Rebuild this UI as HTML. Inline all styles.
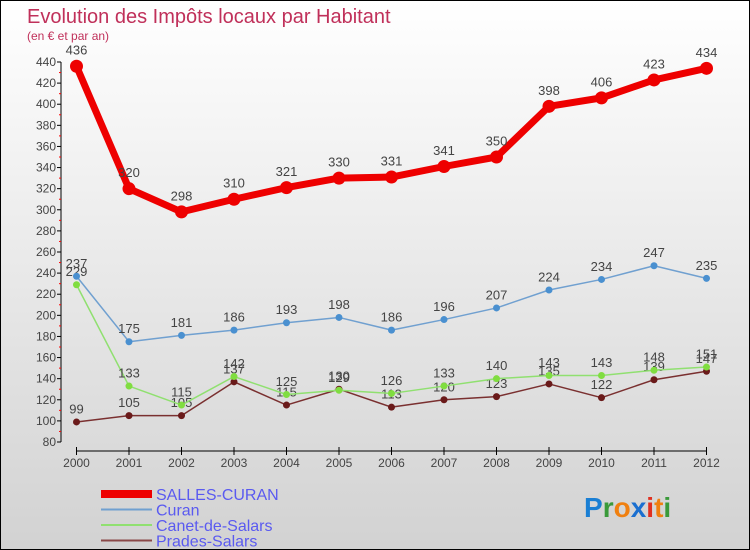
<!DOCTYPE html>
<html><head><meta charset="utf-8"><style>
body{margin:0}
#c{width:750px;height:550px;position:relative;box-sizing:border-box;border:1px solid #000;background:linear-gradient(#fff,#d2d2d2);font-family:"Liberation Sans","DejaVu Sans",sans-serif;overflow:hidden}
svg text{font-family:"Liberation Sans","DejaVu Sans",sans-serif}
</style></head><body>
<div id="c">
<svg id="s" width="750" height="550">
<text x="26" y="22" font-size="20" fill="#c0305a">Evolution des Impôts locaux par Habitant</text>
<text x="26" y="39" font-size="12" fill="#c0305a">(en € et par an)</text>
<text x="583" y="516" font-size="28" font-weight="bold"><tspan fill="#1a7fd4">P</tspan><tspan fill="#3a9a3a">r</tspan><tspan fill="#f08010">o</tspan><tspan fill="#1a6fd0">x</tspan><tspan fill="#e03020">i</tspan><tspan fill="#f08010">t</tspan><tspan fill="#3a9a3a">i</tspan></text>
</svg>
</div>
<script>
const years=["2000","2001","2002","2003","2004","2005","2006","2007","2008","2009","2010","2011","2012"];
const yTicks=[80,100,120,140,160,180,200,220,240,260,280,300,320,340,360,380,400,420,440];
const salles=[436,320,298,310,321,330,331,341,350,398,406,423,434];
const curan=[237,175,181,186,193,198,186,196,207,224,234,247,235];
const canet=[229,133,115,142,125,129,126,133,140,143,143,148,151];
const prades=[99,105,105,137,115,130,113,120,123,135,122,139,147];
const NS="http://www.w3.org/2000/svg",s=document.getElementById('s');
const X=i=>75.5+i*52.5, Y=v=>441-(v-80)*(380/360);
function mk(t,a,p){const e=document.createElementNS(NS,t);for(const k in a)e.setAttribute(k,a[k]);(p||s).appendChild(e);return e;}
let ax=mk('line',{x1:60,y1:Y(440),x2:60,y2:Y(80),stroke:'#000'});


yTicks.forEach(v=>{mk('line',{x1:56,x2:60,y1:Y(v),y2:Y(v),stroke:'#000'});
 if(v<440)mk('line',{x1:58,x2:60,y1:Y(v+10),y2:Y(v+10),stroke:'#f00'});
 const t=mk('text',{x:55,y:Y(v)+4,'font-size':12,'text-anchor':'end',fill:'#444'});t.textContent=v;
 
 });
let xa=mk('line',{x1:75,y1:450,x2:705,y2:450,stroke:'#000'});


years.forEach((y,i)=>{mk('line',{x1:X(i),x2:X(i),y1:446,y2:454,stroke:'#000'});
 const t=mk('text',{x:X(i),y:466,'font-size':12,'text-anchor':'middle',fill:'#444'});t.textContent=y;
 
 });
function series(d,col,dot,w,r,name){
 const g=mk('g',{});
 
 
 mk('polyline',{points:d.map((v,i)=>X(i)+','+Y(v)).join(' '),fill:'none',stroke:col,'stroke-width':w,'stroke-linejoin':'round'},g);
 d.forEach((v,i)=>{mk('circle',{cx:X(i),cy:Y(v),r:r,fill:dot},g);
  const t=mk('text',{x:X(i),y:Y(v)-(r+5),'font-size':13,'text-anchor':'middle',fill:'#444'},g);t.textContent=v;});
}
series(prades,'#7a3030','#6a1a1a',1.5,3.5,'series-prades-salars');
series(canet,'#90e070','#80dd40',1.5,3.5,'series-canet-de-salars');
series(curan,'#70a0d0','#4a90d0',1.5,3.5,'series-curan');
series(salles,'#ee0000','#ee0000',7,6.5,'series-salles-curan');
const leg=[['SALLES-CURAN','#ee0000',8],['Curan','#70a0d0',2],['Canet-de-Salars','#90e070',2],['Prades-Salars','#8a4848',2]];
leg.forEach((l,i)=>{const y=493+i*15.5;const g=mk('g',{});
 
 
 mk('line',{x1:100,x2:151,y1:y,y2:y,stroke:l[1],'stroke-width':l[2]},g);
 const t=mk('text',{x:155,y:y+6,'font-size':16,fill:'#5a5af0'},g);t.textContent=l[0];});
</script>
</body></html>
